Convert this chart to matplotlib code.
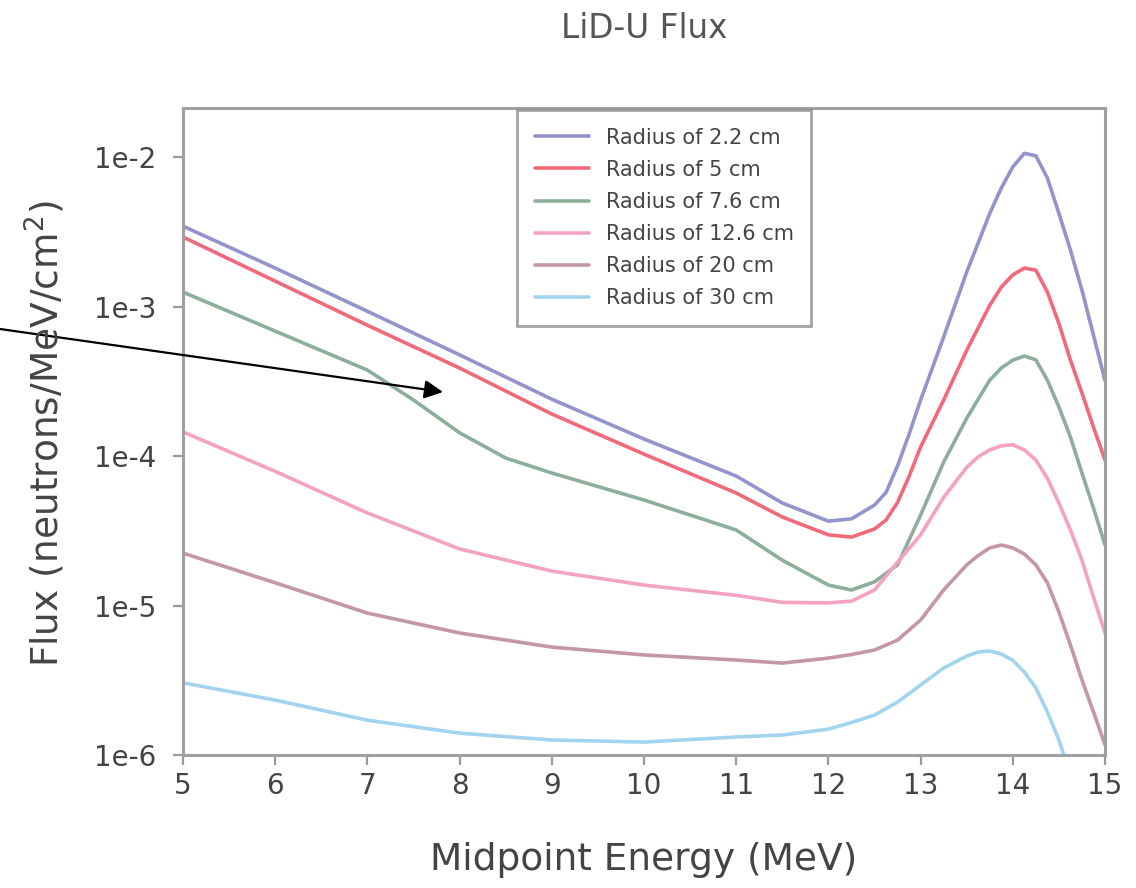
import matplotlib
matplotlib.use("Agg")
import matplotlib.pyplot as plt
from matplotlib.ticker import FixedLocator, FixedFormatter, NullLocator

# ---- data ----
energy_a = [5, 6, 7, 8, 9, 10, 11, 11.5, 12, 12.25, 12.5, 12.625, 12.75, 12.875, 13, 13.25,
            13.5, 13.75, 13.875, 14, 14.125, 14.25, 14.375, 14.5, 14.625, 14.75, 14.875, 15]
flux_r2_2 = [3.45e-3, 1.81e-3, 9.3e-4, 4.75e-4, 2.40e-4, 1.30e-4, 7.35e-5, 4.85e-5, 3.67e-5,
             3.8e-5, 4.7e-5, 5.7e-5, 8.6e-5, 1.40e-4, 2.37e-4, 6.25e-4, 1.70e-3, 4.2e-3,
             6.2e-3, 8.6e-3, 1.06e-2, 1.02e-2, 7.25e-3, 4.2e-3, 2.39e-3, 1.29e-3, 6.44e-4,
             3.2e-4]
flux_r5 = [2.92e-3, 1.48e-3, 7.5e-4, 3.88e-4, 1.91e-4, 1.03e-4, 5.66e-5, 3.91e-5, 2.97e-5,
           2.87e-5, 3.25e-5, 3.73e-5, 4.9e-5, 7.3e-5, 1.15e-4, 2.37e-4, 5.1e-4, 1.02e-3,
           1.35e-3, 1.63e-3, 1.81e-3, 1.75e-3, 1.25e-3, 7.7e-4, 4.38e-4, 2.64e-4, 1.56e-4,
           9.4e-5]

energy_g = [5, 6, 7, 7.5, 8, 8.5, 9, 10, 11, 11.5, 12, 12.25, 12.5, 12.75, 13, 13.25, 13.5,
            13.75, 13.875, 14, 14.125, 14.25, 14.375, 14.5, 14.625, 14.75, 14.875, 15]
flux_r7_6 = [1.25e-3, 6.85e-4, 3.76e-4, 2.37e-4, 1.43e-4, 9.7e-5, 7.7e-5, 5.08e-5, 3.2e-5,
             2.01e-5, 1.37e-5, 1.27e-5, 1.44e-5, 1.87e-5, 4.03e-5, 9.1e-5, 1.79e-4, 3.22e-4,
             3.88e-4, 4.38e-4, 4.67e-4, 4.4e-4, 3.22e-4, 2.13e-4, 1.34e-4, 7.7e-5, 4.49e-5,
             2.54e-5]

energy_b = [5, 6, 7, 8, 9, 10, 11, 11.5, 12, 12.25, 12.5, 12.75, 13, 13.25, 13.5, 13.625,
            13.75, 13.875, 14, 14.125, 14.25, 14.375, 14.5, 14.625, 14.75, 14.875, 15]
flux_r12_6 = [1.45e-4, 7.9e-5, 4.16e-5, 2.39e-5, 1.70e-5, 1.37e-5, 1.17e-5, 1.05e-5, 1.04e-5,
              1.07e-5, 1.27e-5, 1.95e-5, 2.97e-5, 5.3e-5, 8.4e-5, 9.9e-5, 1.10e-4, 1.17e-4,
              1.19e-4, 1.10e-4, 9.4e-5, 7.1e-5, 4.85e-5, 3.2e-5, 2.01e-5, 1.14e-5, 6.55e-6]
flux_r20 = [2.24e-5, 1.42e-5, 8.9e-6, 6.55e-6, 5.27e-6, 4.67e-6, 4.32e-6, 4.12e-6, 4.45e-6,
            4.7e-6, 5.04e-6, 5.87e-6, 8.0e-6, 1.27e-5, 1.87e-5, 2.16e-5, 2.43e-5, 2.54e-5,
            2.43e-5, 2.21e-5, 1.87e-5, 1.42e-5, 9.06e-6, 5.44e-6, 3.18e-6, 1.94e-6, 1.17e-6]
flux_r30 = [3.04e-6, 2.33e-6, 1.71e-6, 1.40e-6, 1.26e-6, 1.22e-6, 1.32e-6, 1.36e-6, 1.49e-6,
            1.65e-6, 1.85e-6, 2.26e-6, 2.94e-6, 3.82e-6, 4.59e-6, 4.89e-6, 4.96e-6, 4.74e-6,
            4.3e-6, 3.59e-6, 2.81e-6, 1.94e-6, 1.26e-6, 7.3e-7, 5.0e-7, 3.0e-7, 2.0e-7]

series_labels = ["Radius of 2.2 cm", "Radius of 5 cm", "Radius of 7.6 cm",
                 "Radius of 12.6 cm", "Radius of 20 cm", "Radius of 30 cm"]
x_ticks = [5, 6, 7, 8, 9, 10, 11, 12, 13, 14, 15]
y_ticks = [1e-6, 1e-5, 1e-4, 1e-3, 1e-2]
y_tick_labels = ["1e-6", "1e-5", "1e-4", "1e-3", "1e-2"]

colors = ["#9494cc", "#f26a7a", "#8cae9a", "#f4a2c2", "#c497a7", "#a2d4f0"]

# ---- figure ----
W, H = 1136, 888
fig = plt.figure(figsize=(W / 100, H / 100), dpi=100)
ax = fig.add_axes([183 / W, 1 - 755 / H, (1105 - 183) / W, (755 - 108) / H])

series = [(energy_a, flux_r2_2), (energy_a, flux_r5), (energy_g, flux_r7_6),
          (energy_b, flux_r12_6), (energy_b, flux_r20), (energy_b, flux_r30)]
for (xs, ys), lab, c in zip(series, series_labels, colors):
    ax.plot(xs, ys, color=c, lw=2.6, label=lab, solid_joinstyle="round",
            solid_capstyle="round")

ax.set_yscale("log")
ax.set_xlim(5, 15)
ax.set_ylim(1e-6, 2.13e-2)

ax.xaxis.set_major_locator(FixedLocator(x_ticks))
ax.yaxis.set_major_locator(FixedLocator(y_ticks))
ax.yaxis.set_major_formatter(FixedFormatter(y_tick_labels))
ax.yaxis.set_minor_locator(NullLocator())
ax.xaxis.set_minor_locator(NullLocator())

tick_color = "#444444"
ax.tick_params(axis="both", direction="out", length=7, width=1.6, color="#9a9a9a",
               labelcolor=tick_color, labelsize=20)
ax.tick_params(axis="x", pad=5)
ax.tick_params(axis="y", pad=12)
for s in ax.spines.values():
    s.set_color("#a0a0a0")
    s.set_linewidth(2.2)

fig.text(644 / W, 1 - 28 / H, "LiD-U Flux", ha="center", va="center",
         fontsize=23.5, color="#555555")
fig.text(644 / W, 1 - 860 / H, "Midpoint Energy (MeV)", ha="center", va="center",
         fontsize=27, color="#444444")
fig.text(45 / W, 1 - 434 / H, r"Flux (neutrons/MeV/cm$^{2}$)", ha="center", va="center",
         rotation=90, fontsize=27, color="#444444")

leg = ax.legend(loc="upper left", bbox_to_anchor=(517 / W, 1 - 110 / H),
                bbox_transform=fig.transFigure, fontsize=15, frameon=True,
                fancybox=False, handlelength=2.6, handletextpad=0.8,
                labelspacing=0.58, borderpad=0.85, borderaxespad=0)
leg.get_frame().set_edgecolor("#8c8c8c")
leg.get_frame().set_linewidth(2.0)
for t in leg.get_texts():
    t.set_color("#444444")

ax.annotate("", xy=(443 / W, 1 - 392 / H), xytext=(0, 1 - 329 / H),
            xycoords="figure fraction", textcoords="figure fraction",
            arrowprops=dict(arrowstyle="-|>", color="black", lw=1.6,
                            mutation_scale=28, shrinkA=0, shrinkB=0),
            annotation_clip=False)

fig.savefig("out.png", dpi=100)
